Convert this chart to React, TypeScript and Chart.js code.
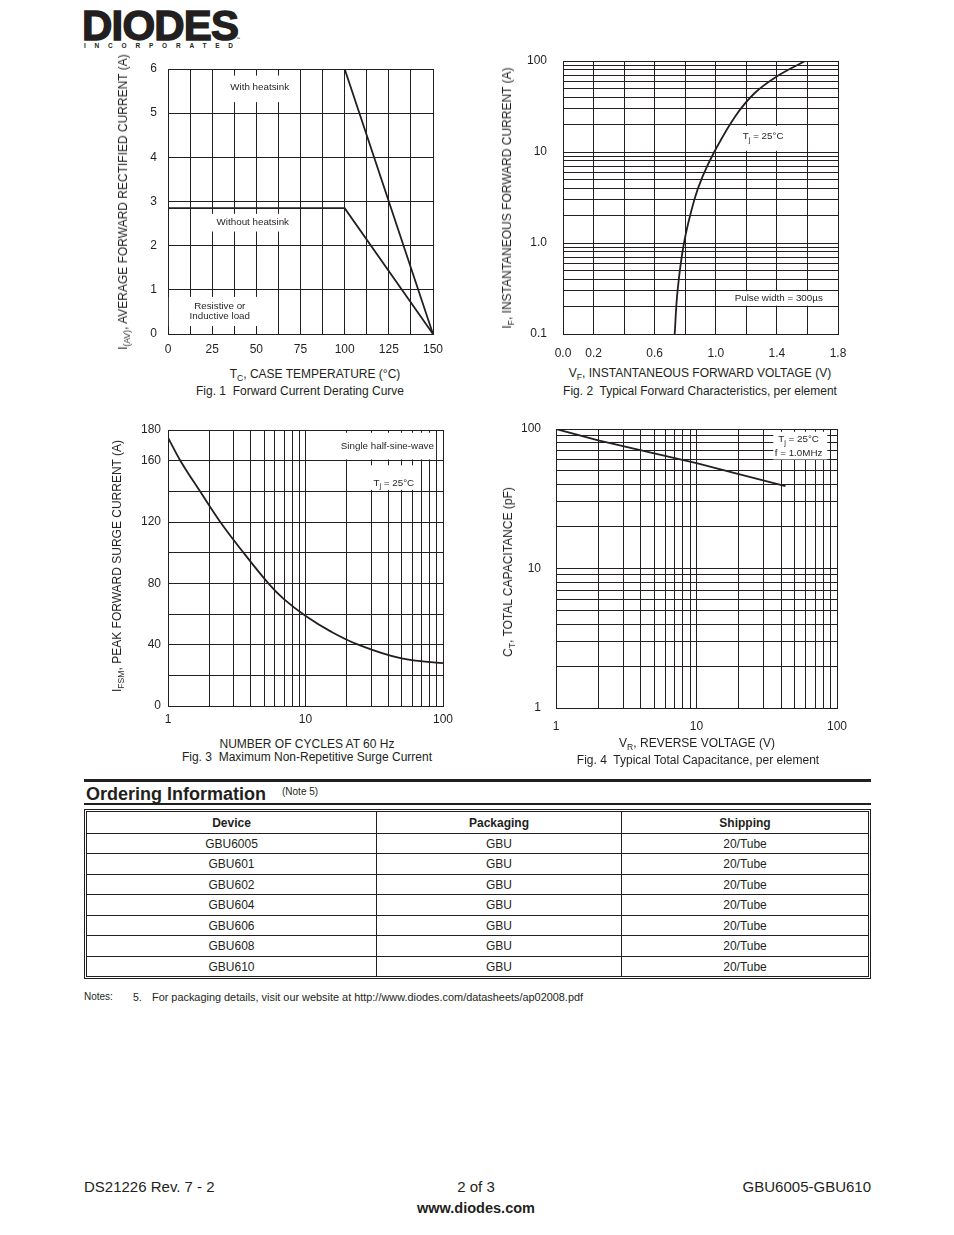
import React, { useEffect, useRef } from 'react';
import { Chart, registerables } from 'chart.js';

Chart.register(...registerables);

const FONT = "'Liberation Sans', Arial, Helvetica, sans-serif";
const INK = '#231f20';

// ---------- Fig. 1  Forward Current Derating Curve ----------
const F1_TC = [0, 100, 150];
const F1_WITH_HEATSINK = [6, 6, 0];
const F1_WITHOUT_HEATSINK = [2.85, 2.85, 0];
const F1_X_LABELS = [0, 25, 50, 75, 100, 125, 150];

// ---------- Fig. 2  Typical Forward Characteristics ----------
const F2_VF = [0.731, 0.75, 0.792, 0.86, 0.914, 0.99, 1.127, 1.255, 1.4, 1.585];
const F2_IF = [0.1, 0.3, 1.0, 3.0, 5.4, 10, 24.6, 44.5, 67.8, 100];
const F2_X_LABELS = ['0.0', '0.2', '', '0.6', '', '1.0', '', '1.4', '', '1.8'];
const F2_Y_LABEL_VALUES = [0.1, 1, 10, 100];
const F2_Y_LABEL_TEXT = ['0.1', '1.0', '10', '100'];

// ---------- Fig. 3  Maximum Non-Repetitive Surge Current ----------
const F3_CYCLES = [1, 1.23, 1.71, 2.4, 3.54, 5.37, 7, 10.1, 15, 24.2, 50, 100];
const F3_IFSM = [175, 160, 140, 120, 100, 80, 69.5, 58.5, 49, 40, 31, 28];
const F3_X_LABEL_VALUES = [1, 10, 100];
const F3_Y_LABELS = [0, 40, 80, 120, 160, 180];

// ---------- Fig. 4  Typical Total Capacitance ----------
const F4_VR = [1, 2, 5, 10, 20, 43];
const F4_CT = [100, 83, 67, 57, 47.5, 39];
const F4_LABEL_VALUES = [1, 10, 100];

// ---------- Ordering information ----------
const TABLE_HEAD = ['Device', 'Packaging', 'Shipping'];
const DEVICES = ['GBU6005', 'GBU601', 'GBU602', 'GBU604', 'GBU606', 'GBU608', 'GBU610'];
const PACKAGING = ['GBU', 'GBU', 'GBU', 'GBU', 'GBU', 'GBU', 'GBU'];
const SHIPPING = ['20/Tube', '20/Tube', '20/Tube', '20/Tube', '20/Tube', '20/Tube', '20/Tube'];

Chart.defaults.font.family = FONT;
Chart.defaults.font.size = 12;
Chart.defaults.color = INK;

function decadeTicks(lo: number, hi: number) {
  const out: number[] = [];
  for (let e = lo; e < hi; e++) {
    for (let k = 1; k < 10; k++) out.push(Number((k * Math.pow(10, e)).toPrecision(4)));
  }
  out.push(Math.pow(10, hi));
  return out;
}

function labelFor(values: number[], texts: string[]) {
  return (v: any) => {
    const n = Number(v);
    const i = values.findIndex((a) => Math.abs(a - n) < a * 1e-6);
    return i >= 0 ? texts[i] : '';
  };
}

type Part = { t: string; sub?: boolean };
type NoteLine = { x: number; y: number; parts: Part[] };
type Note = { box?: [number, number, number, number]; lines: NoteLine[] };

const TJ: Part[] = [{ t: 'T' }, { t: 'j', sub: true }, { t: ' = 25°C' }];
const NOTE_SIZE = 9.8;

function drawRich(ctx: CanvasRenderingContext2D, cx: number, cy: number, parts: Part[], size = NOTE_SIZE) {
  const f = (s: number) => `${s}px ${FONT}`;
  let total = 0;
  const widths = parts.map((p) => {
    ctx.font = f(p.sub ? size * 0.75 : size);
    const w = ctx.measureText(p.t).width;
    total += w;
    return w;
  });
  let x = cx - total / 2;
  ctx.fillStyle = INK;
  ctx.textBaseline = 'middle';
  ctx.textAlign = 'left';
  parts.forEach((p, i) => {
    ctx.font = f(p.sub ? size * 0.75 : size);
    ctx.fillText(p.t, x, cy + (p.sub ? size * 0.35 : 0));
    x += widths[i];
  });
}

function notesPlugin(notes: Note[]) {
  return {
    id: 'figNotes',
    beforeDatasetsDraw(chart: any) {
      const ctx = chart.ctx as CanvasRenderingContext2D;
      const xs = chart.scales.x;
      const ys = chart.scales.y;
      ctx.save();
      for (const n of notes) {
        if (n.box) {
          const x1 = xs.getPixelForValue(n.box[0]);
          const x2 = xs.getPixelForValue(n.box[1]);
          const y1 = ys.getPixelForValue(n.box[2]);
          const y2 = ys.getPixelForValue(n.box[3]);
          ctx.fillStyle = '#ffffff';
          ctx.fillRect(Math.min(x1, x2), Math.min(y1, y2), Math.abs(x2 - x1), Math.abs(y2 - y1));
        }
        for (const l of n.lines) {
          drawRich(ctx, xs.getPixelForValue(l.x), ys.getPixelForValue(l.y), l.parts);
        }
      }
      ctx.restore();
    },
  };
}

type Box = { left: number; top: number; w: number; h: number };
type Plot = { l: number; t: number; r: number; b: number };
type Series = { xs: number[]; ys: number[]; tension?: number };
type Spec = {
  canvas: Box;
  plot: Plot;
  x: any;
  y: any;
  xPad: number;
  yPad: number;
  series: Series[];
  notes: Note[];
};

function buildConfig(spec: Spec): any {
  const { canvas, plot } = spec;
  const axisBase = {
    grid: { color: INK, lineWidth: 1, drawTicks: false },
    border: { color: INK, width: 1 },
  };
  return {
    type: 'scatter',
    data: {
      datasets: spec.series.map((s) => ({
        data: s.xs.map((x, i) => ({ x, y: s.ys[i] })),
        showLine: true,
        borderColor: INK,
        backgroundColor: INK,
        borderWidth: 1.8,
        pointRadius: 0,
        pointHoverRadius: 0,
        fill: false,
        tension: s.tension ?? 0,
      })),
    },
    options: {
      responsive: false,
      animation: false,
      devicePixelRatio: 1,
      events: [],
      layout: {
        padding: {
          left: 0,
          bottom: 0,
          top: plot.t - canvas.top,
          right: canvas.left + canvas.w - plot.r,
        },
      },
      plugins: { legend: { display: false }, tooltip: { enabled: false } },
      scales: {
        x: {
          ...axisBase,
          ...spec.x,
          ticks: { autoSkip: false, maxRotation: 0, minRotation: 0, padding: spec.xPad, color: INK, ...spec.x.ticks },
          afterFit: (s: any) => {
            s.height = canvas.top + canvas.h - plot.b;
            s.paddingLeft = 0;
            s.paddingRight = 0;
          },
        },
        y: {
          ...axisBase,
          ...spec.y,
          ticks: { autoSkip: false, padding: spec.yPad, color: INK, ...spec.y.ticks },
          afterFit: (s: any) => {
            s.width = plot.l - canvas.left;
            s.paddingTop = 0;
            s.paddingBottom = 0;
          },
        },
      },
    },
    plugins: [notesPlugin(spec.notes)],
  };
}

function Fig({ spec }: { spec: Spec }) {
  const ref = useRef<HTMLCanvasElement>(null);
  useEffect(() => {
    const chart = new Chart(ref.current as HTMLCanvasElement, buildConfig(spec));
    return () => chart.destroy();
  }, []);
  const c = spec.canvas;
  return (
    <canvas
      ref={ref}
      width={c.w}
      height={c.h}
      style={{ position: 'absolute', left: c.left, top: c.top, width: c.w, height: c.h }}
    />
  );
}

const LOG_0_1_TO_100 = decadeTicks(-1, 2);
const LOG_1_TO_100 = decadeTicks(0, 2);

const FIG1: Spec = {
  canvas: { left: 130, top: 55, w: 320, h: 305 },
  plot: { l: 168, t: 69, r: 433, b: 334 },
  xPad: 8,
  yPad: 11,
  x: {
    type: 'linear',
    min: 0,
    max: 150,
    ticks: { stepSize: 12.5, callback: (v: any) => (F1_X_LABELS.includes(Number(v)) ? String(v) : '') },
  },
  y: { type: 'linear', min: 0, max: 6, ticks: { stepSize: 1 } },
  series: [
    { xs: F1_TC, ys: F1_WITH_HEATSINK },
    { xs: F1_TC, ys: F1_WITHOUT_HEATSINK },
  ],
  notes: [
    { box: [36, 68, 5.25, 5.85], lines: [{ x: 51.9, y: 5.58, parts: [{ t: 'With heatsink' }] }] },
    { box: [24.5, 72.5, 2.32, 2.72], lines: [{ x: 48, y: 2.52, parts: [{ t: 'Without heatsink' }] }] },
    {
      box: [0.5, 57, 0.18, 0.84],
      lines: [
        { x: 29.3, y: 0.63, parts: [{ t: 'Resistive or' }] },
        { x: 29.3, y: 0.4, parts: [{ t: 'Inductive load' }] },
      ],
    },
  ],
};

const FIG2: Spec = {
  canvas: { left: 510, top: 45, w: 345, h: 320 },
  plot: { l: 563, t: 61, r: 838, b: 334 },
  xPad: 12,
  yPad: 16,
  x: {
    type: 'linear',
    min: 0,
    max: 1.8,
    ticks: { stepSize: 0.2, callback: (_v: any, i: number) => F2_X_LABELS[i] ?? '' },
  },
  y: {
    type: 'logarithmic',
    min: 0.1,
    max: 100,
    afterBuildTicks: (s: any) => {
      s.ticks = LOG_0_1_TO_100.map((v) => ({ value: v }));
    },
    ticks: { callback: labelFor(F2_Y_LABEL_VALUES, F2_Y_LABEL_TEXT) },
  },
  series: [{ xs: F2_VF, ys: F2_IF, tension: 0.4 }],
  notes: [
    { box: [1.17, 1.48, 10.3, 19.3], lines: [{ x: 1.31, y: 14.9, parts: TJ }] },
    { box: [1.11, 1.74, 0.205, 0.295], lines: [{ x: 1.412, y: 0.247, parts: [{ t: 'Pulse width = 300µs' }] }] },
  ],
};

const FIG3: Spec = {
  canvas: { left: 125, top: 415, w: 335, h: 320 },
  plot: { l: 168, t: 430, r: 443, b: 706 },
  xPad: 6,
  yPad: 7,
  x: {
    type: 'logarithmic',
    min: 1,
    max: 100,
    afterBuildTicks: (s: any) => {
      s.ticks = LOG_1_TO_100.map((v) => ({ value: v }));
    },
    ticks: { callback: labelFor(F3_X_LABEL_VALUES, F3_X_LABEL_VALUES.map(String)) },
  },
  y: {
    type: 'linear',
    min: 0,
    max: 180,
    ticks: { stepSize: 20, callback: (v: any) => (F3_Y_LABELS.includes(Number(v)) ? String(v) : '') },
  },
  series: [{ xs: F3_CYCLES, ys: F3_IFSM, tension: 0.4 }],
  notes: [
    { box: [16.8, 89, 160.8, 178.2], lines: [{ x: 39.4, y: 169.1, parts: [{ t: 'Single half-sine-wave' }] }] },
    { box: [29.4, 67.8, 141, 157], lines: [{ x: 43.9, y: 145.5, parts: TJ }] },
  ],
};

const FIG4: Spec = {
  canvas: { left: 505, top: 415, w: 350, h: 325 },
  plot: { l: 556, t: 429, r: 837, b: 708 },
  xPad: 11,
  yPad: 15,
  x: {
    type: 'logarithmic',
    min: 1,
    max: 100,
    afterBuildTicks: (s: any) => {
      s.ticks = LOG_1_TO_100.map((v) => ({ value: v }));
    },
    ticks: { callback: labelFor(F4_LABEL_VALUES, F4_LABEL_VALUES.map(String)) },
  },
  y: {
    type: 'logarithmic',
    min: 1,
    max: 100,
    afterBuildTicks: (s: any) => {
      s.ticks = LOG_1_TO_100.map((v) => ({ value: v }));
    },
    ticks: { callback: labelFor(F4_LABEL_VALUES, F4_LABEL_VALUES.map(String)) },
  },
  series: [{ xs: F4_VR, ys: F4_CT }],
  notes: [
    {
      box: [35.2, 85.3, 60.5, 95.5],
      lines: [
        { x: 53.3, y: 84.2, parts: TJ },
        { x: 53.3, y: 66.9, parts: [{ t: 'f = 1.0MHz' }] },
      ],
    },
  ],
};

function Txt(props: {
  x: number;
  y: number;
  size?: number;
  bold?: boolean;
  align?: 'left' | 'center' | 'right';
  rotate?: boolean;
  style?: React.CSSProperties;
  children: React.ReactNode;
}) {
  const { x, y, size = 12, bold = false, align = 'left', rotate = false, style, children } = props;
  const tx = align === 'center' ? '-50%' : align === 'right' ? '-100%' : '0';
  return (
    <div
      style={{
        position: 'absolute',
        left: x,
        top: y,
        transform: rotate ? 'translate(-50%,-50%) rotate(-90deg)' : `translate(${tx},-50%)`,
        fontSize: size,
        fontWeight: bold ? 700 : 400,
        whiteSpace: 'pre',
        lineHeight: 1,
        color: INK,
        ...style,
      }}
    >
      {children}
    </div>
  );
}

const Sub = ({ children }: { children: React.ReactNode }) => (
  <span style={{ fontSize: '0.72em', verticalAlign: '-0.3em', lineHeight: 0 }}>{children}</span>
);

export default function App() {
  const colX = [0, 289, 534];
  const colW = [289, 245, 247];
  const rows: string[][] = [TABLE_HEAD, ...DEVICES.map((d, i) => [d, PACKAGING[i], SHIPPING[i]])];
  const rowTop = (i: number) => Math.round(i * 20.5);
  return (
    <div
      style={{
        position: 'absolute',
        left: 0,
        top: 0,
        width: 954,
        height: 1235,
        background: '#fff',
        fontFamily: FONT,
        color: INK,
        overflow: 'hidden',
      }}
    >
      {/* Logo */}
      <Txt
        x={82}
        y={25.5}
        size={42}
        bold
        style={{ letterSpacing: -0.8, WebkitTextStroke: `1.4px ${INK}` } as React.CSSProperties}
      >
        DIODES
      </Txt>
      <Txt x={84} y={45.5} size={6.5} bold style={{ letterSpacing: 8.8 }}>
        INCORPORATED
      </Txt>
      <Txt x={236} y={39} size={4}>
        ™
      </Txt>

      {/* Fig 1 */}
      <Fig spec={FIG1} />
      <Txt x={123} y={202} rotate>
        I<Sub>(AV)</Sub>, AVERAGE FORWARD RECTIFIED CURRENT (A)
      </Txt>
      <Txt x={315} y={374} align="center">
        T<Sub>C</Sub>, CASE TEMPERATURE (°C)
      </Txt>
      <Txt x={300} y={391} align="center">
        {'Fig. 1  Forward Current Derating Curve'}
      </Txt>

      {/* Fig 2 */}
      <Fig spec={FIG2} />
      <Txt x={507} y={198} rotate>
        I<Sub>F</Sub>, INSTANTANEOUS FORWARD CURRENT (A)
      </Txt>
      <Txt x={700} y={373} align="center">
        V<Sub>F</Sub>, INSTANTANEOUS FORWARD VOLTAGE (V)
      </Txt>
      <Txt x={700} y={391} align="center">
        {'Fig. 2  Typical Forward Characteristics, per element'}
      </Txt>

      {/* Fig 3 */}
      <Fig spec={FIG3} />
      <Txt x={117} y={566} rotate>
        I<Sub>FSM</Sub>, PEAK FORWARD SURGE CURRENT (A)
      </Txt>
      <Txt x={307} y={744} align="center">
        NUMBER OF CYCLES AT 60 Hz
      </Txt>
      <Txt x={307} y={757} align="center">
        {'Fig. 3  Maximum Non-Repetitive Surge Current'}
      </Txt>

      {/* Fig 4 */}
      <Fig spec={FIG4} />
      <Txt x={508} y={572} rotate>
        C<Sub>T</Sub>, TOTAL CAPACITANCE (pF)
      </Txt>
      <Txt x={697} y={743} align="center">
        V<Sub>R</Sub>, REVERSE VOLTAGE (V)
      </Txt>
      <Txt x={698} y={760} align="center">
        {'Fig. 4  Typical Total Capacitance, per element'}
      </Txt>

      {/* Ordering information */}
      <div style={{ position: 'absolute', left: 84, top: 779, width: 787, height: 2.5, background: INK }} />
      <Txt x={86} y={794} size={18} bold>
        Ordering Information
      </Txt>
      <Txt x={282} y={792} size={10}>
        (Note 5)
      </Txt>
      <div style={{ position: 'absolute', left: 84, top: 803, width: 787, height: 2, background: INK }} />

      <div
        style={{
          position: 'absolute',
          left: 84,
          top: 809,
          width: 787,
          height: 170,
          border: `3px double ${INK}`,
          boxSizing: 'border-box',
        }}
      >
        {rows.map((r, ri) =>
          r.map((c, ci) => (
            <div
              key={`${ri}-${ci}`}
              style={{
                position: 'absolute',
                left: colX[ci],
                top: rowTop(ri),
                width: colW[ci],
                height: rowTop(ri + 1) - rowTop(ri),
                borderLeft: ci ? `1px solid ${INK}` : 'none',
                borderTop: ri ? `1px solid ${INK}` : 'none',
                boxSizing: 'border-box',
                display: 'flex',
                alignItems: 'center',
                justifyContent: 'center',
                fontSize: 12,
                fontWeight: ri === 0 ? 700 : 400,
              }}
            >
              {c}
            </div>
          ))
        )}
      </div>

      <Txt x={84} y={997} size={10}>
        Notes:
      </Txt>
      <Txt x={133} y={997} size={10.5}>
        5.
      </Txt>
      <Txt x={152} y={997} size={10.9}>
        For packaging details, visit our website at http://www.diodes.com/datasheets/ap02008.pdf
      </Txt>

      {/* Footer */}
      <Txt x={84} y={1186} size={15}>
        DS21226 Rev. 7 - 2
      </Txt>
      <Txt x={476} y={1186} size={15} align="center">
        2 of 3
      </Txt>
      <Txt x={871} y={1186} size={15} align="right">
        GBU6005-GBU610
      </Txt>
      <Txt x={476} y={1208} size={14.5} bold align="center">
        www.diodes.com
      </Txt>
    </div>
  );
}
